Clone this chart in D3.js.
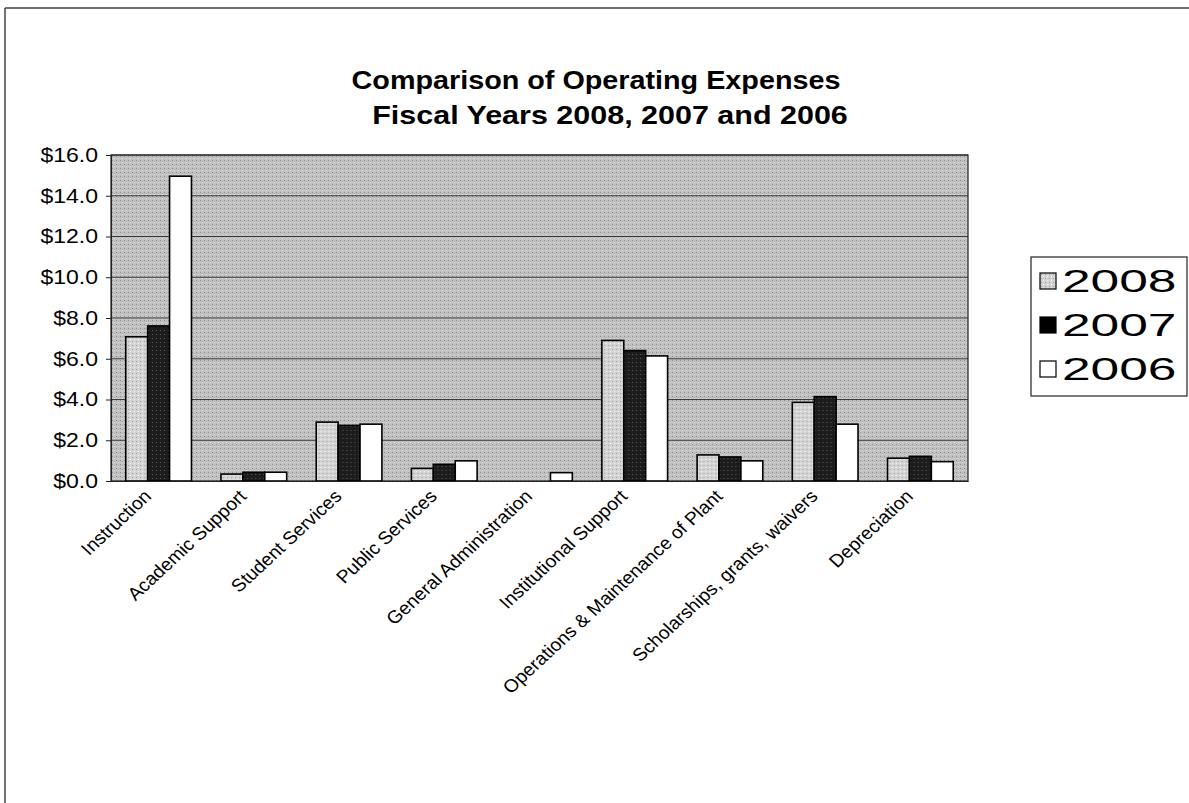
<!DOCTYPE html>
<html>
<head>
<meta charset="utf-8">
<script src="https://cdn.jsdelivr.net/npm/d3@7"></script>
<style>
  html, body { margin: 0; padding: 0; background: #fff; }
  svg { display: block; font-family: "Liberation Sans", Arial, sans-serif; }
</style>
</head>
<body>
<svg id="chart" width="1189" height="803"></svg>
<script>
// Operating expense categories (millions of dollars)
const categories = [
  "Instruction",
  "Academic Support",
  "Student Services",
  "Public Services",
  "General Administration",
  "Institutional Support",
  "Operations & Maintenance of Plant",
  "Scholarships, grants, waivers",
  "Depreciation"
];
const seriesNames = ["2008", "2007", "2006"];
const values2008 = [7.08, 0.34, 2.89, 0.62, 0, 6.90, 1.28, 3.86, 1.12];
const values2007 = [7.61, 0.43, 2.73, 0.82, 0, 6.40, 1.18, 4.14, 1.21];
const values2006 = [14.96, 0.43, 2.79, 0.99, 0.41, 6.14, 0.99, 2.79, 0.95];
const yTicks = [0, 2, 4, 6, 8, 10, 12, 14, 16];
const titleLines = ["Comparison of Operating Expenses", "Fiscal Years 2008, 2007 and 2006"];

const seriesValues = [values2008, values2007, values2006];

// the chart's lettering is set slightly wide
const WIDEN = 1.15;
function widen(sel, factor) {
  sel.each(function () {
    const len = this.getComputedTextLength();
    d3.select(this).attr("textLength", len * factor).attr("lengthAdjust", "spacingAndGlyphs");
  });
}

const svg = d3.select("#chart");

// outer frame (top and left edges)
svg.append("line").attr("x1", 5).attr("x2", 1189).attr("y1", 8).attr("y2", 8)
  .attr("stroke", "#444").attr("stroke-width", 1.5);
svg.append("line").attr("x1", 5).attr("x2", 5).attr("y1", 8).attr("y2", 803)
  .attr("stroke", "#444").attr("stroke-width", 1.5);

// title
const t1 = svg.append("text").attr("x", 596).attr("y", 89)
  .attr("text-anchor", "middle").attr("font-size", 25).attr("font-weight", "bold")
  .text(titleLines[0]);
const t2 = svg.append("text").attr("x", 610).attr("y", 124)
  .attr("text-anchor", "middle").attr("font-size", 25).attr("font-weight", "bold")
  .text(titleLines[1]);
widen(t1, WIDEN);
widen(t2, WIDEN * 1.06);

const plot = { left: 111, right: 968, top: 155, bottom: 481 };

const x0 = d3.scaleBand().domain(categories).range([plot.left, plot.right]).padding(0);
const step = x0.bandwidth();
const x1 = d3.scaleBand().domain(seriesNames)
  .range([step * 0.155, step * 0.845]).padding(0);
const y = d3.scaleLinear().domain([0, 16]).range([plot.bottom, plot.top]);

// stipple textures
const defs = svg.append("defs");
const pat = defs.append("pattern").attr("id", "stipple")
  .attr("width", 4).attr("height", 4).attr("patternUnits", "userSpaceOnUse");
pat.append("rect").attr("width", 4).attr("height", 4).attr("fill", "#c2c2c2");
pat.append("rect").attr("x", 0).attr("y", 0).attr("width", 1).attr("height", 1).attr("fill", "#8e8e8e");
pat.append("rect").attr("x", 2).attr("y", 1).attr("width", 1).attr("height", 1).attr("fill", "#a4a4a4");
pat.append("rect").attr("x", 2).attr("y", 2).attr("width", 1).attr("height", 1).attr("fill", "#e4e4e4");

const pat2 = defs.append("pattern").attr("id", "stippleLight")
  .attr("width", 4).attr("height", 4).attr("patternUnits", "userSpaceOnUse");
pat2.append("rect").attr("width", 4).attr("height", 4).attr("fill", "#d4d4d4");
pat2.append("rect").attr("x", 1).attr("y", 1).attr("width", 1).attr("height", 1).attr("fill", "#a0a0a0");
pat2.append("rect").attr("x", 3).attr("y", 3).attr("width", 1).attr("height", 1).attr("fill", "#f2f2f2");

const pat3 = defs.append("pattern").attr("id", "stippleDark")
  .attr("width", 4).attr("height", 4).attr("patternUnits", "userSpaceOnUse");
pat3.append("rect").attr("width", 4).attr("height", 4).attr("fill", "#1c1c1c");
pat3.append("rect").attr("x", 1).attr("y", 2).attr("width", 1).attr("height", 1).attr("fill", "#5a5a5a");

const barFills = ["url(#stippleLight)", "url(#stippleDark)", "#ffffff"];

svg.append("rect")
  .attr("x", plot.left).attr("y", plot.top)
  .attr("width", plot.right - plot.left).attr("height", plot.bottom - plot.top)
  .attr("fill", "url(#stipple)");

// gridlines
svg.append("g").selectAll("line").data(yTicks.filter(t => t > 0)).join("line")
  .attr("x1", plot.left).attr("x2", plot.right)
  .attr("y1", d => y(d)).attr("y2", d => y(d))
  .attr("stroke", "#3c3c3c").attr("stroke-width", 1);

// plot border
svg.append("rect")
  .attr("x", plot.left).attr("y", plot.top)
  .attr("width", plot.right - plot.left).attr("height", plot.bottom - plot.top)
  .attr("fill", "none").attr("stroke", "#222").attr("stroke-width", 1.2);

// bars
const groups = svg.append("g").selectAll("g").data(categories).join("g")
  .attr("transform", d => `translate(${x0(d)},0)`);
groups.selectAll("rect")
  .data((d, i) => seriesNames.map((s, k) => ({ s, k, v: seriesValues[k][i] })).filter(e => e.v > 0))
  .join("rect")
  .attr("x", d => x1(d.s))
  .attr("width", x1.bandwidth())
  .attr("y", d => y(d.v))
  .attr("height", d => y(0) - y(d.v))
  .attr("fill", d => barFills[d.k])
  .attr("stroke", "#000").attr("stroke-width", 1.6);

// y axis
const yAxis = d3.axisLeft(y).tickValues(yTicks)
  .tickFormat(d => "$" + d.toFixed(1)).tickSize(5).tickPadding(8);
const ya = svg.append("g").attr("transform", `translate(${plot.left},0)`).call(yAxis);
ya.select(".domain").attr("stroke", "#222");
ya.selectAll(".tick line").attr("stroke", "#222");
ya.selectAll("text").attr("font-size", 20).attr("fill", "#000")
  .attr("font-family", "Liberation Sans, Arial, sans-serif");
widen(ya.selectAll("text"), WIDEN);

// x axis: rotated category names
const xa = svg.append("g").attr("transform", `translate(0,${plot.bottom})`)
  .call(d3.axisBottom(x0).tickSize(0).tickFormat(() => ""));
xa.select(".domain").attr("stroke", "#222");
svg.append("g").selectAll("g").data(categories).join("g")
  .attr("transform", d => `translate(${x0(d) + step / 2 - 11},${plot.bottom + 12}) scale(1.08,1) rotate(-45)`)
  .append("text")
  .attr("font-size", 18).attr("fill", "#000")
  .attr("text-anchor", "end")
  .attr("dy", "0.35em")
  .text(d => d);

// legend
const lg = svg.append("g").attr("transform", "translate(1031,257)");
lg.append("rect").attr("width", 156).attr("height", 139)
  .attr("fill", "#fff").attr("stroke", "#222").attr("stroke-width", 1.2);
const items = lg.selectAll("g").data(seriesNames).join("g")
  .attr("transform", (d, i) => `translate(9,${16 + i * 44})`);
items.append("rect").attr("width", 16).attr("height", 16)
  .attr("fill", (d, i) => i === 1 ? "#000" : (i === 0 ? "url(#stippleLight)" : "#fff"))
  .attr("stroke", "#000").attr("stroke-width", 1.2);
const lt = items.append("text").attr("x", 22).attr("y", 8).attr("dy", "0.36em")
  .attr("font-size", 31).text(d => d);
widen(lt, 1.66);
</script>
</body>
</html>
